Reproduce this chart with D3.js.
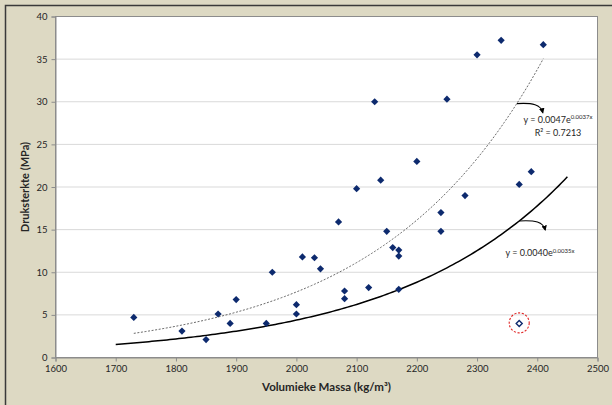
<!DOCTYPE html>
<html>
<head>
<meta charset="utf-8">
<script src="https://cdn.jsdelivr.net/npm/d3@7"></script>
<style>
  body { margin: 0; background: #ddd9c3; }
  svg { display: block; font-family: Lato, "Open Sans", sans-serif; }
</style>
</head>
<body>
<svg id="chart" width="612" height="405"></svg>
<script>
// measured points: volumieke massa (kg/m3) and druksterkte (MPa)
const massa = [1730, 1810, 1850, 1870, 1890, 1900, 1950, 1960, 2000, 2000, 2010, 2030, 2040,
  2070, 2080, 2080, 2100, 2120, 2130, 2140, 2150, 2160, 2170, 2170, 2170, 2200, 2240, 2240,
  2250, 2280, 2300, 2340, 2370, 2390, 2410];
const sterkte = [4.7, 3.1, 2.1, 5.1, 4.0, 6.8, 4.0, 10.0, 6.2, 5.1, 11.8, 11.7, 10.4,
  15.9, 7.8, 6.9, 19.8, 8.2, 30.0, 20.8, 14.8, 12.9, 12.6, 11.9, 8.0, 23.0, 17.0, 14.8,
  30.3, 19.0, 35.5, 37.2, 20.3, 21.8, 36.7];
// outlier (open marker, circled)
const outlierMassa = [2370];
const outlierSterkte = [4.0];

// trendlines as printed on the chart: y = a * e^(b x)
const fitDashed = { a: 0.0047, b: 0.0037, from: 1730, to: 2410 };
const fitSolid = { a: 0.0040, b: 0.0035, from: 1700, to: 2450 };
const xTicks = [1600, 1700, 1800, 1900, 2000, 2100, 2200, 2300, 2400, 2500];
const yTicks = [0, 5, 10, 15, 20, 25, 30, 35, 40];

const svg = d3.select('#chart');
const plot = { left: 55.5, top: 16.5, right: 597.5, bottom: 357.5 };

// outer frame
svg.append('rect').attr('x', 5.5).attr('y', 5.5).attr('width', 612).attr('height', 405)
  .attr('fill', '#ddd9c3').attr('stroke', '#3a3a3a').attr('stroke-width', 1.5);

const x = d3.scaleLinear().domain([1600, 2500]).range([plot.left, plot.right]);
const y = d3.scaleLinear().domain([0, 40]).range([plot.bottom, plot.top]);

svg.append('rect')
  .attr('x', plot.left).attr('y', plot.top)
  .attr('width', plot.right - plot.left).attr('height', plot.bottom - plot.top)
  .attr('fill', '#fff');

// gridlines
svg.append('g').selectAll('line').data(yTicks.slice(1)).join('line')
  .attr('x1', plot.left).attr('x2', plot.right)
  .attr('y1', d => y(d)).attr('y2', d => y(d))
  .attr('stroke', '#d9d9d9').attr('stroke-width', 1);

svg.append('rect')
  .attr('x', plot.left).attr('y', plot.top)
  .attr('width', plot.right - plot.left).attr('height', plot.bottom - plot.top)
  .attr('fill', 'none').attr('stroke', '#8c8c8c').attr('stroke-width', 1);

const xAxis = svg.append('g')
  .attr('transform', `translate(0,${plot.bottom})`)
  .call(d3.axisBottom(x).tickValues(xTicks).tickSize(4).tickPadding(4).tickFormat(d3.format('d')));
const yAxis = svg.append('g')
  .attr('transform', `translate(${plot.left},0)`)
  .call(d3.axisLeft(y).tickValues(yTicks).tickSize(4).tickPadding(4));
[xAxis, yAxis].forEach(g => {
  g.select('.domain').attr('stroke', '#8c8c8c');
  g.selectAll('.tick line').attr('stroke', '#8c8c8c');
  g.selectAll('.tick text').attr('fill', '#262626').style('font-size', '9.5px')
    .style('font-family', 'Lato, "Open Sans", sans-serif');
});

svg.append('text')
  .attr('x', (plot.left + plot.right) / 2).attr('y', 391)
  .attr('text-anchor', 'middle').attr('fill', '#262626')
  .style('font-size', '11.5px').style('font-weight', 'bold')
  .text('Volumieke Massa (kg/m³)');
svg.append('text')
  .attr('transform', `translate(29,${(plot.top + plot.bottom) / 2}) rotate(-90)`)
  .attr('text-anchor', 'middle').attr('fill', '#262626')
  .style('font-size', '11px').style('font-weight', 'bold')
  .text('Druksterkte (MPa)');

// trendlines
const curve = f => d3.range(f.from, f.to + 0.1, 5).map(v => [v, f.a * Math.exp(f.b * v)]);
const line = d3.line().x(d => x(d[0])).y(d => y(d[1]));
svg.append('path').datum(curve(fitDashed)).attr('d', line)
  .attr('fill', 'none').attr('stroke', '#595959').attr('stroke-width', 0.9)
  .attr('stroke-dasharray', '2,1.6');
svg.append('path').datum(curve(fitSolid)).attr('d', line)
  .attr('fill', 'none').attr('stroke', '#000').attr('stroke-width', 1.5);

// markers
const diamond = (cx, cy, r) => `M${cx},${cy - r}L${cx + r},${cy}L${cx},${cy + r}L${cx - r},${cy}Z`;
svg.append('g').selectAll('path').data(d3.range(massa.length)).join('path')
  .attr('d', i => diamond(x(massa[i]), y(sterkte[i]), 3.6))
  .attr('fill', '#0d2a6e');
svg.append('g').selectAll('path').data(d3.range(outlierMassa.length)).join('path')
  .attr('d', i => diamond(x(outlierMassa[i]), y(outlierSterkte[i]), 3))
  .attr('fill', '#fff').attr('stroke', '#0d2a6e').attr('stroke-width', 1.4);
svg.append('g').selectAll('circle').data(d3.range(outlierMassa.length)).join('circle')
  .attr('cx', i => x(outlierMassa[i])).attr('cy', i => y(outlierSterkte[i]) - 0.5).attr('r', 10)
  .attr('fill', 'none').attr('stroke', '#e02020').attr('stroke-width', 1.1)
  .attr('stroke-dasharray', '2.2,1.6');

// equation labels with curved arrows
svg.append('defs').append('marker').attr('id', 'arr')
  .attr('viewBox', '0 0 10 10').attr('refX', 8).attr('refY', 5)
  .attr('markerWidth', 5).attr('markerHeight', 5).attr('orient', 'auto')
  .append('path').attr('d', 'M0,0L10,5L0,10Z').attr('fill', '#000');

function label(f, v, tx, ty, r2) {
  const px = x(v), py = y(f.a * Math.exp(f.b * v));
  svg.append('path')
    .attr('d', `M${px},${py} C${px + 16},${py - 1} ${px + 24},${py + 1} ${px + 26},${py + 9}`)
    .attr('fill', 'none').attr('stroke', '#000').attr('stroke-width', 1.1)
    .attr('marker-end', 'url(#arr)');
  const t = svg.append('text').attr('x', tx).attr('y', ty).attr('text-anchor', 'middle')
    .attr('fill', '#262626').style('font-size', '9px');
  t.append('tspan').text(`y = ${f.a.toFixed(4)}e`);
  t.append('tspan').attr('dy', -3.5).style('font-size', '6px').text(`${f.b.toFixed(4)}x`);
  if (r2) {
    svg.append('text').attr('x', tx).attr('y', ty + 13).attr('text-anchor', 'middle')
      .attr('fill', '#262626').style('font-size', '9px').text(r2);
  }
}
label(fitDashed, 2366, 558, 122.5, 'R² = 0.7213');
label(fitSolid, 2370, 540, 256);
</script>
</body>
</html>
